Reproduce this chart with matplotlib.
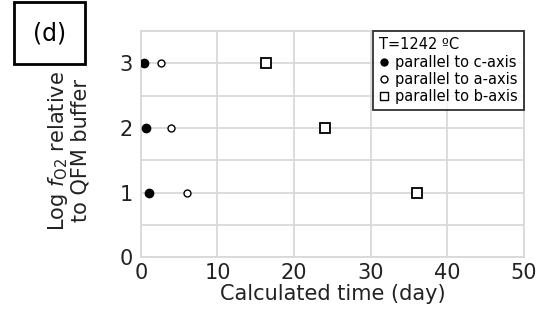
import matplotlib.pyplot as plt
from matplotlib.lines import Line2D

# log fO2 relative to QFM buffer
levels = [3, 2, 1]
# calculated time (day) for each direction
t_c = [0.4, 0.65, 1.0]
t_a = [2.6, 3.9, 6.0]
t_b = [16.4, 24.0, 36.0]

fig = plt.figure(figsize=(5.59, 3.21), dpi=100)
ax = fig.add_axes([0.252, 0.199, 0.685, 0.704])

ax.plot(t_c, levels, 'o', color='black', markersize=6, zorder=3)
ax.plot(t_a, levels, 'o', mfc='white', mec='black', mew=1.0, markersize=5, zorder=3)
ax.plot(t_b, levels, 's', mfc='white', mec='black', mew=1.3, markersize=7, zorder=3)

ax.set_xlim(0, 50)
ax.set_ylim(0, 3.5)
ax.set_xticks([0, 10, 20, 30, 40, 50])
ax.set_yticks([0, 0.5, 1, 1.5, 2, 2.5, 3, 3.5])
ax.set_yticklabels(['0', '', '1', '', '2', '', '3', ''])
ax.grid(True, color='#d9d9d9', lw=1.3)
ax.set_axisbelow(True)
for s in ax.spines.values():
    s.set_color('#d9d9d9')
    s.set_linewidth(1.3)
ax.tick_params(length=0, labelsize=15, colors='#222222')
ax.tick_params(axis='y', pad=6)
ax.tick_params(axis='x', pad=4)

ax.set_xlabel('Calculated time (day)', fontsize=15, color='#222222', labelpad=1)
ax.set_ylabel('Log $\\it{f}$$_{\\rm O2}$ relative\nto QFM buffer', fontsize=15,
              color='#222222', linespacing=1.05, va='center')
ax.yaxis.set_label_coords(-0.19, 0.47)

handles = [
    Line2D([], [], marker='o', linestyle='none', color='black', markersize=5,
           label='parallel to c-axis'),
    Line2D([], [], marker='o', linestyle='none', mfc='white', mec='black',
           markersize=5, label='parallel to a-axis'),
    Line2D([], [], marker='s', linestyle='none', mfc='white', mec='black',
           markersize=6, label='parallel to b-axis'),
]
leg = ax.legend(handles=handles, loc='upper right', bbox_to_anchor=(1.0, 1.0),
                title='T=1242 ºC', title_fontsize=10.5, alignment='left',
                fontsize=10.5, frameon=True, fancybox=False, borderaxespad=0,
                handlelength=0.6, handletextpad=0.5, labelspacing=0.15,
                borderpad=0.4)
leg.get_frame().set_edgecolor('black')
leg.get_frame().set_linewidth(1.3)
leg._legend_box.sep = 2

fig.text(0.089, 0.896, '(d)', fontsize=17, ha='center', va='center',
         bbox=dict(boxstyle='square,pad=0.8', fc='white', ec='black', lw=2))

fig.savefig('out.png', dpi=100)
